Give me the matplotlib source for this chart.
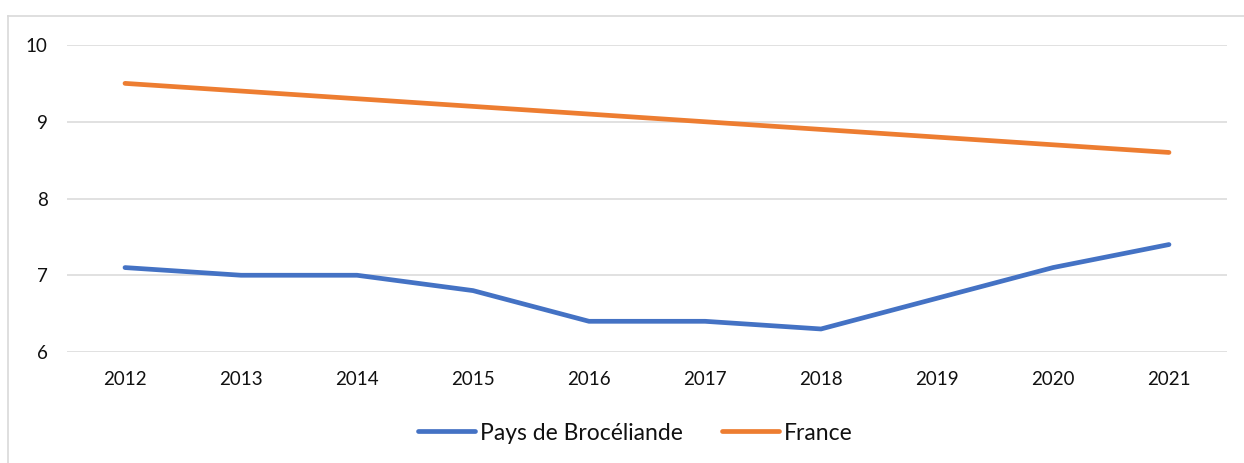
import matplotlib
matplotlib.use("Agg")
import matplotlib.pyplot as plt
from matplotlib.lines import Line2D

years = ["2012", "2013", "2014", "2015", "2016", "2017", "2018", "2019", "2020", "2021"]
broceliande = [7.1, 7.0, 7.0, 6.8, 6.4, 6.4, 6.3, 6.7, 7.1, 7.4]
france = [9.5, 9.4, 9.3, 9.2, 9.1, 9.0, 8.9, 8.8, 8.7, 8.6]
series_names = ["Pays de Brocéliande", "France"]
yticks = [6, 7, 8, 9, 10]

plt.rcParams['font.family'] = ['Lato', 'DejaVu Sans']

W, H = 1244, 463
fig = plt.figure(figsize=(W / 100, H / 100), dpi=100)
ax = fig.add_axes([67 / W, 1 - 352 / H, (1227 - 67) / W, (352 - 45) / H])

x = list(range(len(years)))
ax.plot(x, broceliande, color="#4472C4", lw=3.4, solid_capstyle="round",
        solid_joinstyle="round", label=series_names[0], zorder=3)
ax.plot(x, france, color="#ED7D31", lw=3.4, solid_capstyle="round",
        solid_joinstyle="round", label=series_names[1], zorder=3)

ax.set_xlim(-0.5, len(years) - 0.5)
ax.set_ylim(6, 10)
ax.set_yticks(yticks)
ax.set_yticklabels([str(v) for v in yticks])
ax.set_xticks(x)
ax.set_xticklabels(years)
ax.yaxis.grid(True, color="#D9D9D9", lw=1.1)
ax.set_axisbelow(True)
for s in ax.spines.values():
    s.set_visible(False)
ax.tick_params(axis="both", length=0, labelsize=13.5, labelcolor="#111111")
ax.tick_params(axis="y", pad=14)
ax.tick_params(axis="x", pad=14)

fig.legend(loc="center", bbox_to_anchor=(635 / W, 1 - 433 / H), ncol=2, frameon=False,
           fontsize=16.5, handlelength=2.5, handletextpad=0.2, columnspacing=1.7,
           labelcolor="#111111")

# chart frame (partially visible)
fig.add_artist(Line2D([8 / W, 8 / W], [0, 1 - 16 / H], transform=fig.transFigure,
                      color="#D9D9D9", lw=1.2))
fig.add_artist(Line2D([8 / W, 1], [1 - 16 / H, 1 - 16 / H], transform=fig.transFigure,
                      color="#D9D9D9", lw=1.2))

fig.savefig("out.png", dpi=100)
